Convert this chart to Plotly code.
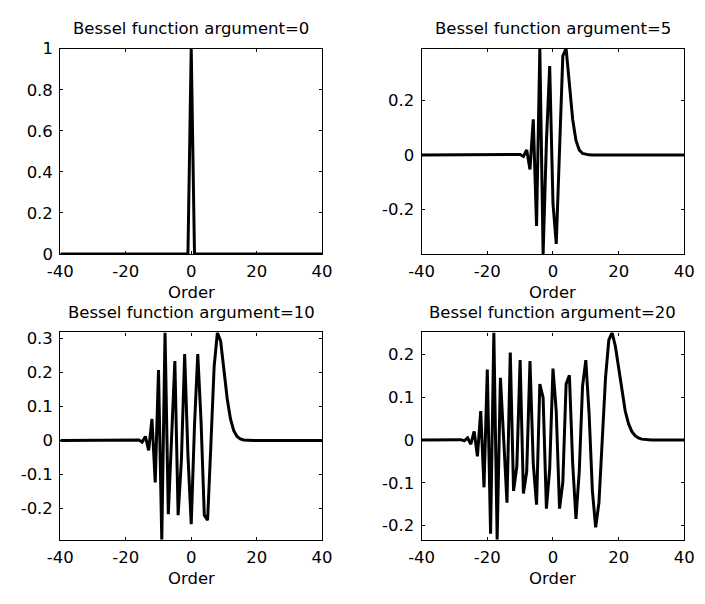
import plotly.graph_objects as go

# Bessel function orders (x axis)
orders = list(range(-40, 41))

# Values (J_n(x) for each argument)
bessel_arg0 = [
    0, 0, 0, 0, 0, 0, 0, 0, 0, 0, 0, 0, 0, 0, 0, 0, 0, 0, 0, 0,
    0, 0, 0, 0, 0, 0, 0, 0, 0, 0, 0, 0, 0, 0, 0, 0, 0, 0, 0, 0,
    1.0,
    0, 0, 0, 0, 0, 0, 0, 0, 0, 0, 0, 0, 0, 0, 0, 0, 0, 0, 0, 0,
    0, 0, 0, 0, 0, 0, 0, 0, 0, 0, 0, 0, 0, 0, 0, 0, 0, 0, 0, 0,
]

bessel_arg5 = [
    0, 0, 0, 0, 0, 0, 0, 0, 0, 0, 0, 0, 0, 0, 0, 0, 0, 0, 0, 0,
    0, 0, 0, 0, 0, 0, 0, 0,
    0.0001, -0.0004, 0.0015, -0.0055, 0.0184, -0.0534, 0.1310, -0.2611,
    0.3912, -0.3648, 0.0466, 0.3276,
    -0.1776,
    -0.3276, 0.0466, 0.3648, 0.3912, 0.2611, 0.1310, 0.0534, 0.0184,
    0.0055, 0.0015, 0.0004, 0.0001,
    0, 0, 0, 0, 0, 0, 0, 0, 0, 0, 0, 0, 0, 0, 0, 0, 0, 0, 0, 0,
    0, 0, 0, 0, 0, 0, 0, 0,
]

bessel_arg10 = [
    0, 0, 0, 0, 0, 0, 0, 0, 0, 0, 0, 0, 0, 0, 0, 0, 0, 0, 0, 0, 0,
    0, 0.0002, -0.0005, 0.0016, -0.0045, 0.0120, -0.0290, 0.0634, -0.1231,
    0.2075, -0.2919, 0.3179, -0.2167, -0.0145, 0.2341, -0.2196, -0.0584,
    0.2546, -0.0435,
    -0.2459,
    0.0435, 0.2546, 0.0584, -0.2196, -0.2341, -0.0145, 0.2167, 0.3179,
    0.2919, 0.2075, 0.1231, 0.0634, 0.0290, 0.0120, 0.0045, 0.0016,
    0.0005, 0.0002, 0,
    0, 0, 0, 0, 0, 0, 0, 0, 0, 0, 0, 0, 0, 0, 0, 0, 0, 0, 0, 0, 0,
]

bessel_arg20 = [
    0, 0, 0, 0, 0, 0, 0, 0, 0,
    0, 0.0001, -0.0003, 0.0008, -0.0020, 0.0047, -0.0099, 0.0200, -0.0381,
    0.0676, -0.1106, 0.1647, -0.2189, 0.2511, -0.2331, 0.1452, 0.0008,
    -0.1464, 0.2041, -0.1190, -0.0614, 0.1865, -0.1251, -0.0739, 0.1842,
    -0.0551, -0.1512, 0.1307, 0.0989, -0.1603, -0.0668,
    0.1670,
    0.0668, -0.1603, -0.0989, 0.1307, 0.1512, -0.0551, -0.1842, -0.0739,
    0.1251, 0.1865, 0.0614, -0.1190, -0.2041, -0.1464, -0.0008, 0.1452,
    0.2331, 0.2511, 0.2189, 0.1647, 0.1106, 0.0676, 0.0381, 0.0200,
    0.0099, 0.0047, 0.0020, 0.0008, 0.0003, 0.0001, 0,
    0, 0, 0, 0, 0, 0, 0, 0, 0,
]

titles = [
    "Bessel function argument=0",
    "Bessel function argument=5",
    "Bessel function argument=10",
    "Bessel function argument=20",
]

x_ticks = [-40, -20, 0, 20, 40]
x_ticktext = ["-40", "-20", "0", "20", "40"]
y_ticks_0 = [0, 0.2, 0.4, 0.6, 0.8, 1]
y_ticktext_0 = ["0", "0.2", "0.4", "0.6", "0.8", "1"]
y_ticks_5 = [-0.2, 0, 0.2]
y_ticktext_5 = ["-0.2", "0", "0.2"]
y_ticks_10 = [-0.2, -0.1, 0, 0.1, 0.2, 0.3]
y_ticktext_10 = ["-0.2", "-0.1", "0", "0.1", "0.2", "0.3"]
y_ticks_20 = [-0.2, -0.1, 0, 0.1, 0.2]
y_ticktext_20 = ["-0.2", "-0.1", "0", "0.1", "0.2"]

series = [bessel_arg0, bessel_arg5, bessel_arg10, bessel_arg20]
yticks = [(y_ticks_0, y_ticktext_0), (y_ticks_5, y_ticktext_5),
          (y_ticks_10, y_ticktext_10), (y_ticks_20, y_ticktext_20)]

W, H = 705, 604
# panel pixel boxes: left, right, top, bottom
boxes = [(49, 320, 41, 253), (423, 695, 41, 253),
         (49, 320, 334, 548), (423, 695, 334, 548)]

FONT = "DejaVu Sans, Verdana, sans-serif"
FS = 16.5

fig = go.Figure()
annotations = []
for i, (vals, (tv, tt), box) in enumerate(zip(series, yticks, boxes)):
    k = "" if i == 0 else str(i + 1)
    fig.add_trace(go.Scatter(
        x=orders, y=vals, mode="lines",
        line=dict(color="black", width=3),
        xaxis="x" + k, yaxis="y" + k, showlegend=False,
        hoverinfo="skip",
    ))
    l, r, t, b = box
    common = dict(showline=True, linecolor="black", linewidth=1.3, mirror="ticks",
                  ticks="inside", ticklen=3, tickwidth=1, tickcolor="black",
                  showgrid=False, zeroline=False,
                  tickfont=dict(family=FONT, size=FS, color="black"))
    fig.update_layout(**{
        "xaxis" + k: dict(domain=[l / W, r / W], anchor="y" + k,
                          range=[-40, 40], tickvals=x_ticks, ticktext=x_ticktext,
                          ticklabelstandoff=2, **common),
        "yaxis" + k: dict(domain=[1 - b / H, 1 - t / H], anchor="x" + k,
                          range=[min(vals), max(vals)], tickvals=tv, ticktext=tt,
                          ticklabelstandoff=3, **common),
    })
    cx = (l + r) / 2 / W
    annotations.append(dict(text=titles[i], x=cx, y=1 - (t - 21) / H,
                            xref="paper", yref="paper", xanchor="center",
                            yanchor="middle", showarrow=False,
                            font=dict(family=FONT, size=FS, color="black")))
    annotations.append(dict(text="Order", x=cx, y=1 - (b + 40) / H,
                            xref="paper", yref="paper", xanchor="center",
                            yanchor="middle", showarrow=False,
                            font=dict(family=FONT, size=FS, color="black")))

fig.update_layout(width=W, height=H, margin=dict(l=0, r=0, t=0, b=0),
                  paper_bgcolor="white", plot_bgcolor="white",
                  annotations=annotations)

fig.write_html("out.html",
               config={"displayModeBar": False},
               post_script="document.body.style.margin='0px';"
                           "document.body.style.overflow='hidden';")
